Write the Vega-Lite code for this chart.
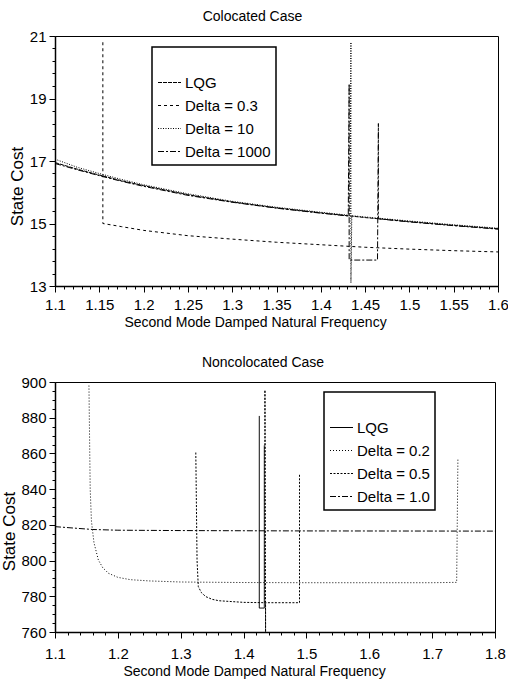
{
  "$schema": "https://vega.github.io/schema/vega-lite/v6.json",
  "padding": {"left": 0, "top": 9, "right": 2, "bottom": 0},
  "background": "white",
  "spacing": 25,
  "align": "none",
  "datasets": {
    "top": [
      {"series": "LQG", "i": 1, "x": 1.1, "y": 16.95},
      {"series": "LQG", "i": 2, "x": 1.125, "y": 16.74},
      {"series": "LQG", "i": 3, "x": 1.15, "y": 16.55},
      {"series": "LQG", "i": 4, "x": 1.175, "y": 16.37},
      {"series": "LQG", "i": 5, "x": 1.2, "y": 16.21},
      {"series": "LQG", "i": 6, "x": 1.25, "y": 15.92},
      {"series": "LQG", "i": 7, "x": 1.3, "y": 15.69},
      {"series": "LQG", "i": 8, "x": 1.35, "y": 15.5},
      {"series": "LQG", "i": 9, "x": 1.4, "y": 15.34},
      {"series": "LQG", "i": 10, "x": 1.45, "y": 15.19},
      {"series": "LQG", "i": 11, "x": 1.5, "y": 15.06},
      {"series": "LQG", "i": 12, "x": 1.55, "y": 14.94},
      {"series": "LQG", "i": 13, "x": 1.6, "y": 14.83},
      {"series": "Delta = 0.3", "i": 1, "x": 1.154, "y": 20.8},
      {"series": "Delta = 0.3", "i": 2, "x": 1.154, "y": 15.0},
      {"series": "Delta = 0.3", "i": 3, "x": 1.175, "y": 14.9},
      {"series": "Delta = 0.3", "i": 4, "x": 1.2, "y": 14.78},
      {"series": "Delta = 0.3", "i": 5, "x": 1.25, "y": 14.61},
      {"series": "Delta = 0.3", "i": 6, "x": 1.3, "y": 14.5},
      {"series": "Delta = 0.3", "i": 7, "x": 1.35, "y": 14.4},
      {"series": "Delta = 0.3", "i": 8, "x": 1.4, "y": 14.32},
      {"series": "Delta = 0.3", "i": 9, "x": 1.45, "y": 14.24},
      {"series": "Delta = 0.3", "i": 10, "x": 1.5, "y": 14.18},
      {"series": "Delta = 0.3", "i": 11, "x": 1.55, "y": 14.13},
      {"series": "Delta = 0.3", "i": 12, "x": 1.6, "y": 14.09},
      {"series": "Delta = 10", "i": 1, "x": 1.1, "y": 17.06},
      {"series": "Delta = 10", "i": 2, "x": 1.125, "y": 16.8},
      {"series": "Delta = 10", "i": 3, "x": 1.15, "y": 16.6},
      {"series": "Delta = 10", "i": 4, "x": 1.175, "y": 16.41},
      {"series": "Delta = 10", "i": 5, "x": 1.2, "y": 16.24},
      {"series": "Delta = 10", "i": 6, "x": 1.25, "y": 15.95},
      {"series": "Delta = 10", "i": 7, "x": 1.3, "y": 15.71},
      {"series": "Delta = 10", "i": 8, "x": 1.35, "y": 15.52},
      {"series": "Delta = 10", "i": 9, "x": 1.4, "y": 15.36},
      {"series": "Delta = 10", "i": 10, "x": 1.433, "y": 15.26},
      {"series": "Delta = 10", "i": 11, "x": 1.434, "y": 20.8},
      {"series": "Delta = 10", "i": 12, "x": 1.434, "y": 13.1},
      {"series": "Delta = 10", "i": 13, "x": 1.435, "y": 15.25},
      {"series": "Delta = 10", "i": 14, "x": 1.45, "y": 15.21},
      {"series": "Delta = 10", "i": 15, "x": 1.5, "y": 15.08},
      {"series": "Delta = 10", "i": 16, "x": 1.55, "y": 14.96},
      {"series": "Delta = 10", "i": 17, "x": 1.6, "y": 14.85},
      {"series": "Delta = 1000", "i": 1, "x": 1.1, "y": 16.92},
      {"series": "Delta = 1000", "i": 2, "x": 1.125, "y": 16.72},
      {"series": "Delta = 1000", "i": 3, "x": 1.15, "y": 16.53},
      {"series": "Delta = 1000", "i": 4, "x": 1.175, "y": 16.35},
      {"series": "Delta = 1000", "i": 5, "x": 1.2, "y": 16.19},
      {"series": "Delta = 1000", "i": 6, "x": 1.25, "y": 15.9},
      {"series": "Delta = 1000", "i": 7, "x": 1.3, "y": 15.68},
      {"series": "Delta = 1000", "i": 8, "x": 1.35, "y": 15.49},
      {"series": "Delta = 1000", "i": 9, "x": 1.4, "y": 15.33},
      {"series": "Delta = 1000", "i": 10, "x": 1.431, "y": 15.24},
      {"series": "Delta = 1000", "i": 11, "x": 1.432, "y": 19.47},
      {"series": "Delta = 1000", "i": 12, "x": 1.432, "y": 13.83},
      {"series": "Delta = 1000", "i": 13, "x": 1.464, "y": 13.83},
      {"series": "Delta = 1000", "i": 14, "x": 1.465, "y": 18.2},
      {"series": "Delta = 1000", "i": 15, "x": 1.465, "y": 15.15},
      {"series": "Delta = 1000", "i": 16, "x": 1.5, "y": 15.05},
      {"series": "Delta = 1000", "i": 17, "x": 1.55, "y": 14.93},
      {"series": "Delta = 1000", "i": 18, "x": 1.6, "y": 14.82}
    ],
    "bottom": [
      {"series": "LQG", "i": 1, "x": 1.425, "y": 881},
      {"series": "LQG", "i": 2, "x": 1.425, "y": 773.4},
      {"series": "LQG", "i": 3, "x": 1.433, "y": 773.4},
      {"series": "LQG", "i": 4, "x": 1.433, "y": 864.5},
      {"series": "Delta = 0.2", "i": 1, "x": 1.154, "y": 898},
      {"series": "Delta = 0.2", "i": 2, "x": 1.156, "y": 840},
      {"series": "Delta = 0.2", "i": 3, "x": 1.158, "y": 822},
      {"series": "Delta = 0.2", "i": 4, "x": 1.162, "y": 810},
      {"series": "Delta = 0.2", "i": 5, "x": 1.169, "y": 800.3},
      {"series": "Delta = 0.2", "i": 6, "x": 1.176, "y": 796},
      {"series": "Delta = 0.2", "i": 7, "x": 1.185, "y": 792.9},
      {"series": "Delta = 0.2", "i": 8, "x": 1.2, "y": 790.6},
      {"series": "Delta = 0.2", "i": 9, "x": 1.22, "y": 789.3},
      {"series": "Delta = 0.2", "i": 10, "x": 1.25, "y": 788.6},
      {"series": "Delta = 0.2", "i": 11, "x": 1.3, "y": 788},
      {"series": "Delta = 0.2", "i": 12, "x": 1.4, "y": 787.7},
      {"series": "Delta = 0.2", "i": 13, "x": 1.5, "y": 787.6},
      {"series": "Delta = 0.2", "i": 14, "x": 1.6, "y": 787.6},
      {"series": "Delta = 0.2", "i": 15, "x": 1.7, "y": 787.6},
      {"series": "Delta = 0.2", "i": 16, "x": 1.739, "y": 787.8},
      {"series": "Delta = 0.2", "i": 17, "x": 1.741, "y": 857.3},
      {"series": "Delta = 0.5", "i": 1, "x": 1.324, "y": 860.5},
      {"series": "Delta = 0.5", "i": 2, "x": 1.326, "y": 800},
      {"series": "Delta = 0.5", "i": 3, "x": 1.328, "y": 785.4},
      {"series": "Delta = 0.5", "i": 4, "x": 1.333, "y": 782},
      {"series": "Delta = 0.5", "i": 5, "x": 1.34, "y": 779.8},
      {"series": "Delta = 0.5", "i": 6, "x": 1.35, "y": 778.3},
      {"series": "Delta = 0.5", "i": 7, "x": 1.361, "y": 777.5},
      {"series": "Delta = 0.5", "i": 8, "x": 1.4, "y": 776.6},
      {"series": "Delta = 0.5", "i": 9, "x": 1.434, "y": 776.4},
      {"series": "Delta = 0.5", "i": 10, "x": 1.434, "y": 895.5},
      {"series": "Delta = 0.5", "i": 11, "x": 1.435, "y": 760},
      {"series": "Delta = 0.5", "i": 12, "x": 1.435, "y": 776.4},
      {"series": "Delta = 0.5", "i": 13, "x": 1.45, "y": 776.4},
      {"series": "Delta = 0.5", "i": 14, "x": 1.489, "y": 776.4},
      {"series": "Delta = 0.5", "i": 15, "x": 1.489, "y": 848.5},
      {"series": "Delta = 1.0", "i": 1, "x": 1.1, "y": 819},
      {"series": "Delta = 1.0", "i": 2, "x": 1.13, "y": 818.2},
      {"series": "Delta = 1.0", "i": 3, "x": 1.16, "y": 817.4},
      {"series": "Delta = 1.0", "i": 4, "x": 1.2, "y": 817},
      {"series": "Delta = 1.0", "i": 5, "x": 1.3, "y": 816.8},
      {"series": "Delta = 1.0", "i": 6, "x": 1.5, "y": 816.6},
      {"series": "Delta = 1.0", "i": 7, "x": 1.8, "y": 816.5}
    ]
  },
  "vconcat": [
    {
      "width": 443,
      "height": 250,
      "title": {"text": "Colocated Case", "fontSize": 14, "fontWeight": "normal", "offset": 5, "dx": -24},
      "data": {"name": "top"},
      "mark": {"type": "line", "color": "black", "strokeWidth": 1, "clip": true},
      "encoding": {
        "x": {
          "field": "x", "type": "quantitative",
          "scale": {"domain": [1.1, 1.6], "nice": false, "zero": false},
          "axis": {
            "title": "Second Mode Damped Natural Frequency",
            "titleX": 200,
            "labelPadding": 5,
            "values": [1.1,1.11,1.12,1.13,1.14,1.15,1.16,1.17,1.18,1.19,1.2,1.21,1.22,1.23,1.24,1.25,1.26,1.27,1.28,1.29,1.3,1.31,1.32,1.33,1.34,1.35,1.36,1.37,1.38,1.39,1.4,1.41,1.42,1.43,1.44,1.45,1.46,1.47,1.48,1.49,1.5,1.51,1.52,1.53,1.54,1.55,1.56,1.57,1.58,1.59,1.6],
            "labelExpr": "abs(datum.value*20 - round(datum.value*20)) < 0.001 ? toString(round(datum.value*100)/100) : ''",
            "tickSize": {"condition": {"test": "abs(datum.value*20 - round(datum.value*20)) < 0.001", "value": 6}, "value": 3}
          }
        },
        "y": {
          "field": "y", "type": "quantitative",
          "scale": {"domain": [13, 21], "nice": false, "zero": false},
          "axis": {
            "title": "State Cost",
            "titleY": 150,
            "titleFontSize": 17,
            "titlePadding": 3,
            "values": [13,13.4,13.8,14.2,14.6,15,15.4,15.8,16.2,16.6,17,17.4,17.8,18.2,18.6,19,19.4,19.8,20.2,20.6,21],
            "labelExpr": "abs((datum.value-13)/2 - round((datum.value-13)/2)) < 0.001 ? toString(datum.value) : ''",
            "tickSize": {"condition": {"test": "abs((datum.value-13)/2 - round((datum.value-13)/2)) < 0.001", "value": 6}, "value": 3}
          }
        },
        "strokeDash": {
          "field": "series", "type": "nominal",
          "scale": {"domain": ["LQG", "Delta = 0.3", "Delta = 10", "Delta = 1000"], "range": [[4, 1], [3, 3], [1, 1.5], [6, 2, 2, 2]]},
          "legend": {"orient": "none", "legendX": 97, "legendY": 11, "title": " "}
        },
        "order": {"field": "i", "type": "quantitative"}
      }
    },
    {
      "width": 440,
      "height": 250,
      "title": {"text": "Noncolocated Case", "fontSize": 14, "fontWeight": "normal", "offset": 5, "dx": -12},
      "data": {"name": "bottom"},
      "mark": {"type": "line", "color": "black", "strokeWidth": 1, "clip": true},
      "encoding": {
        "x": {
          "field": "x", "type": "quantitative",
          "scale": {"domain": [1.1, 1.8], "nice": false, "zero": false},
          "axis": {
            "title": "Second Mode Damped Natural Frequency",
            "titleX": 199,
            "labelPadding": 8,
            "values": [1.1,1.12,1.14,1.16,1.18,1.2,1.22,1.24,1.26,1.28,1.3,1.32,1.34,1.36,1.38,1.4,1.42,1.44,1.46,1.48,1.5,1.52,1.54,1.56,1.58,1.6,1.62,1.64,1.66,1.68,1.7,1.72,1.74,1.76,1.78,1.8],
            "labelExpr": "abs(datum.value*10 - round(datum.value*10)) < 0.001 ? toString(round(datum.value*10)/10) : ''",
            "tickSize": {"condition": {"test": "abs(datum.value*10 - round(datum.value*10)) < 0.001", "value": 6}, "value": 3}
          }
        },
        "y": {
          "field": "y", "type": "quantitative",
          "scale": {"domain": [760, 900], "nice": false, "zero": false},
          "axis": {
            "title": "State Cost",
            "titleY": 149,
            "titleFontSize": 17,
            "titlePadding": 2,
            "values": [760,765,770,775,780,785,790,795,800,805,810,815,820,825,830,835,840,845,850,855,860,865,870,875,880,885,890,895,900],
            "labelExpr": "abs((datum.value-760)/20 - round((datum.value-760)/20)) < 0.001 ? toString(datum.value) : ''",
            "tickSize": {"condition": {"test": "abs((datum.value-760)/20 - round((datum.value-760)/20)) < 0.001", "value": 6}, "value": 3}
          }
        },
        "strokeDash": {
          "field": "series", "type": "nominal",
          "scale": {"domain": ["LQG", "Delta = 0.2", "Delta = 0.5", "Delta = 1.0"], "range": [[1, 0], [1, 2], [2, 1.5], [6, 2, 2, 2]]},
          "legend": {"orient": "none", "legendX": 269, "legendY": 10, "title": " "}
        },
        "order": {"field": "i", "type": "quantitative"}
      }
    }
  ],
  "resolve": {"scale": {"strokeDash": "independent"}, "legend": {"strokeDash": "independent"}},
  "config": {
    "font": "Liberation Sans",
    "view": {"stroke": "black", "strokeWidth": 1},
    "title": {"color": "black", "font": "Liberation Sans"},
    "axis": {
      "grid": false,
      "domainColor": "black",
      "domainWidth": 1.5,
      "tickColor": "black",
      "tickWidth": 1,
      "labelColor": "black",
      "labelFont": "Liberation Sans",
      "labelFontSize": 15,
      "labelPadding": 3,
      "labelOverlap": false,
      "labelFlush": false,
      "titleColor": "black",
      "titleFont": "Liberation Sans",
      "titleFontSize": 14,
      "titleFontWeight": "normal",
      "titlePadding": 3
    },
    "legend": {
      "strokeColor": "black",
      "strokeWidth": 1.5,
      "fillColor": "white",
      "padding": 5,
      "symbolType": "stroke",
      "symbolSize": 529,
      "symbolStrokeWidth": 1.2,
      "symbolStrokeColor": "black",
      "labelFont": "Liberation Sans",
      "labelFontSize": 15,
      "labelColor": "black",
      "labelLimit": 300,
      "labelOffset": 3,
      "rowPadding": 2,
      "titleFontSize": 14,
      "titlePadding": 4
    }
  }
}
